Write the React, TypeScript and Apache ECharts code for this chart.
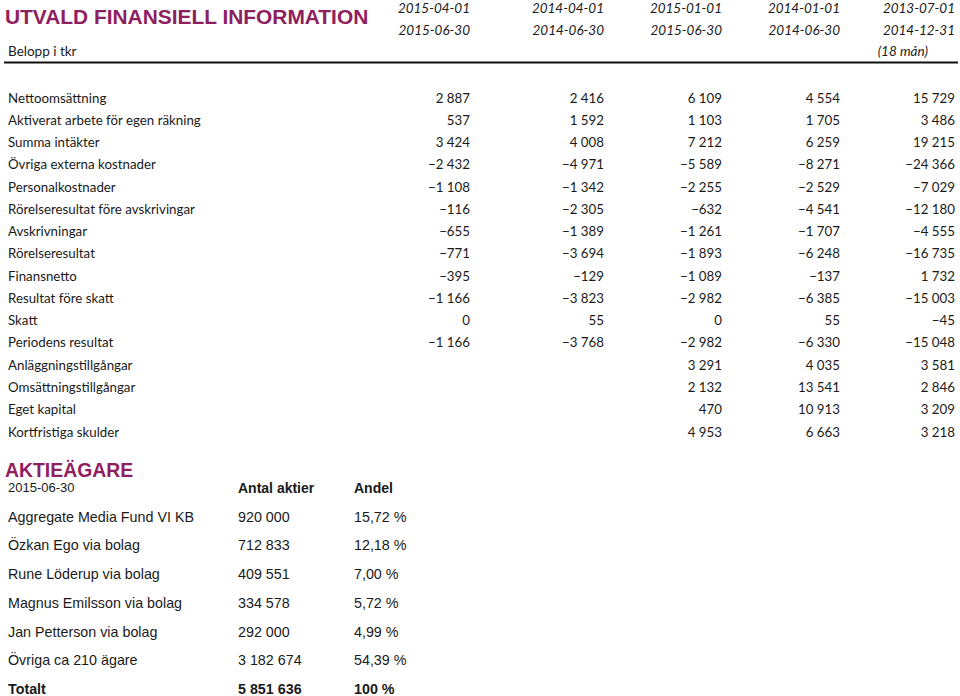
import React, { useEffect, useRef } from "react";
import * as echarts from "echarts";

// ---- Data ----
const title = "UTVALD FINANSIELL INFORMATION";
const unitLabel = "Belopp i tkr";
const periodStarts = ["2015-04-01", "2014-04-01", "2015-01-01", "2014-01-01", "2013-07-01"];
const periodEnds = ["2015-06-30", "2014-06-30", "2015-06-30", "2014-06-30", "2014-12-31"];
const periodNote = "(18 mån)";

const rowLabels = [
  "Nettoomsättning",
  "Aktiverat arbete för egen räkning",
  "Summa intäkter",
  "Övriga externa kostnader",
  "Personalkostnader",
  "Rörelseresultat före avskrivingar",
  "Avskrivningar",
  "Rörelseresultat",
  "Finansnetto",
  "Resultat före skatt",
  "Skatt",
  "Periodens resultat",
  "Anläggningstillgångar",
  "Omsättningstillgångar",
  "Eget kapital",
  "Kortfristiga skulder",
];
const q2_2015 = [2887, 537, 3424, -2432, -1108, -116, -655, -771, -395, -1166, 0, -1166, null, null, null, null];
const q2_2014 = [2416, 1592, 4008, -4971, -1342, -2305, -1389, -3694, -129, -3823, 55, -3768, null, null, null, null];
const h1_2015 = [6109, 1103, 7212, -5589, -2255, -632, -1261, -1893, -1089, -2982, 0, -2982, 3291, 2132, 470, 4953];
const h1_2014 = [4554, 1705, 6259, -8271, -2529, -4541, -1707, -6248, -137, -6385, 55, -6330, 4035, 13541, 10913, 6663];
const fy_2014 = [15729, 3486, 19215, -24366, -7029, -12180, -4555, -16735, 1732, -15003, -45, -15048, 3581, 2846, 3209, 3218];

const ownersTitle = "AKTIEÄGARE";
const ownersDate = "2015-06-30";
const ownersHeaders = ["Antal aktier", "Andel"];
const ownerNames = [
  "Aggregate Media Fund VI KB",
  "Özkan Ego via bolag",
  "Rune Löderup via bolag",
  "Magnus Emilsson via bolag",
  "Jan Petterson via bolag",
  "Övriga ca 210 ägare",
];
const ownerShares = [920000, 712833, 409551, 334578, 292000, 3182674];
const ownerPercent = [15.72, 12.18, 7.0, 5.72, 4.99, 54.39];
const totalLabel = "Totalt";
const totalShares = 5851636;
const totalPercent = 100;

// ---- helpers ----
function fmtInt(n: number): string {
  const s = Math.abs(n).toString().replace(/\B(?=(\d{3})+(?!\d))/g, " ");
  return (n < 0 ? "\u2212" : "") + s;
}
function fmtPct(n: number, dec: number): string {
  return n.toFixed(dec).replace(".", ",") + " %";
}

const PURPLE = "#8E2060";
const TEXT = "#1a1a1a";
const TFONT = "Lato, 'Open Sans', sans-serif";
const AFONT = "'Liberation Sans', Arial, sans-serif";

export default function App() {
  const ref = useRef<HTMLDivElement>(null);
  useEffect(() => {
    if (!ref.current) return;
    const chart = echarts.init(ref.current, null, { renderer: "svg" });
    const els: any[] = [];
    const txt = (x: number, y: number, text: string, opt: any = {}) => {
      els.push({
        type: "text",
        x,
        y,
        silent: true,
        style: {
          text,
          fill: opt.fill || TEXT,
          fontFamily: opt.family || TFONT,
          fontSize: opt.size || 13,
          fontWeight: opt.weight || "normal",
          fontStyle: opt.style || "normal",
          align: opt.align || "left",
          verticalAlign: "middle",
        },
      });
    };

    // title
    txt(5, 16, title, { fill: PURPLE, family: AFONT, size: 20.9, weight: "bold" });
    txt(8, 51, unitLabel, { size: 13.5 });

    const colRight = [470, 604, 722, 840, 955];
    periodStarts.forEach((d, i) => txt(colRight[i], 8, d, { style: "italic", align: "right", size: 13.5 }));
    periodEnds.forEach((d, i) => txt(colRight[i], 30, d, { style: "italic", align: "right", size: 13.5 }));
    txt(928, 51, periodNote, { style: "italic", align: "right", size: 13.5 });

    els.push({
      type: "line",
      silent: true,
      shape: { x1: 4, y1: 62.5, x2: 958, y2: 62.5 },
      style: { stroke: "#111", lineWidth: 2 },
    });

    const cols = [q2_2015, q2_2014, h1_2015, h1_2014, fy_2014];
    const rowY0 = 97.5;
    const rowStep = 22.27;
    rowLabels.forEach((lab, r) => {
      const y = rowY0 + r * rowStep;
      txt(8, y, lab, { size: 13.3 });
      cols.forEach((c, ci) => {
        const v = c[r];
        if (v !== null && v !== undefined) txt(colRight[ci], y, fmtInt(v), { align: "right", size: 13.3 });
      });
    });

    // owners table
    txt(5, 470, ownersTitle, { fill: PURPLE, family: AFONT, size: 19.4, weight: "bold" });
    txt(8, 487.5, ownersDate, { family: AFONT, size: 13 });
    txt(238, 488, ownersHeaders[0], { family: AFONT, size: 14, weight: "bold" });
    txt(354, 488, ownersHeaders[1], { family: AFONT, size: 14, weight: "bold" });
    const oY0 = 516.5;
    const oStep = 28.75;
    ownerNames.forEach((n, i) => {
      const y = oY0 + i * oStep;
      txt(8, y, n, { family: AFONT, size: 14.3 });
      txt(238, y, fmtInt(ownerShares[i]), { family: AFONT, size: 14.3 });
      txt(354, y, fmtPct(ownerPercent[i], 2), { family: AFONT, size: 14.3 });
    });
    const yT = oY0 + ownerNames.length * oStep;
    txt(8, yT, totalLabel, { family: AFONT, size: 14.3, weight: "bold" });
    txt(238, yT, fmtInt(totalShares), { family: AFONT, size: 14.3, weight: "bold" });
    txt(354, yT, fmtPct(totalPercent, 0), { family: AFONT, size: 14.3, weight: "bold" });

    chart.setOption({
      animation: false,
      backgroundColor: "#ffffff",
      graphic: { elements: els },
    });
    return () => chart.dispose();
  }, []);
  return (
    <div
      ref={ref}
      style={{ position: "fixed", left: 0, top: 0, width: 960, height: 696, background: "#fff" }}
    />
  );
}
